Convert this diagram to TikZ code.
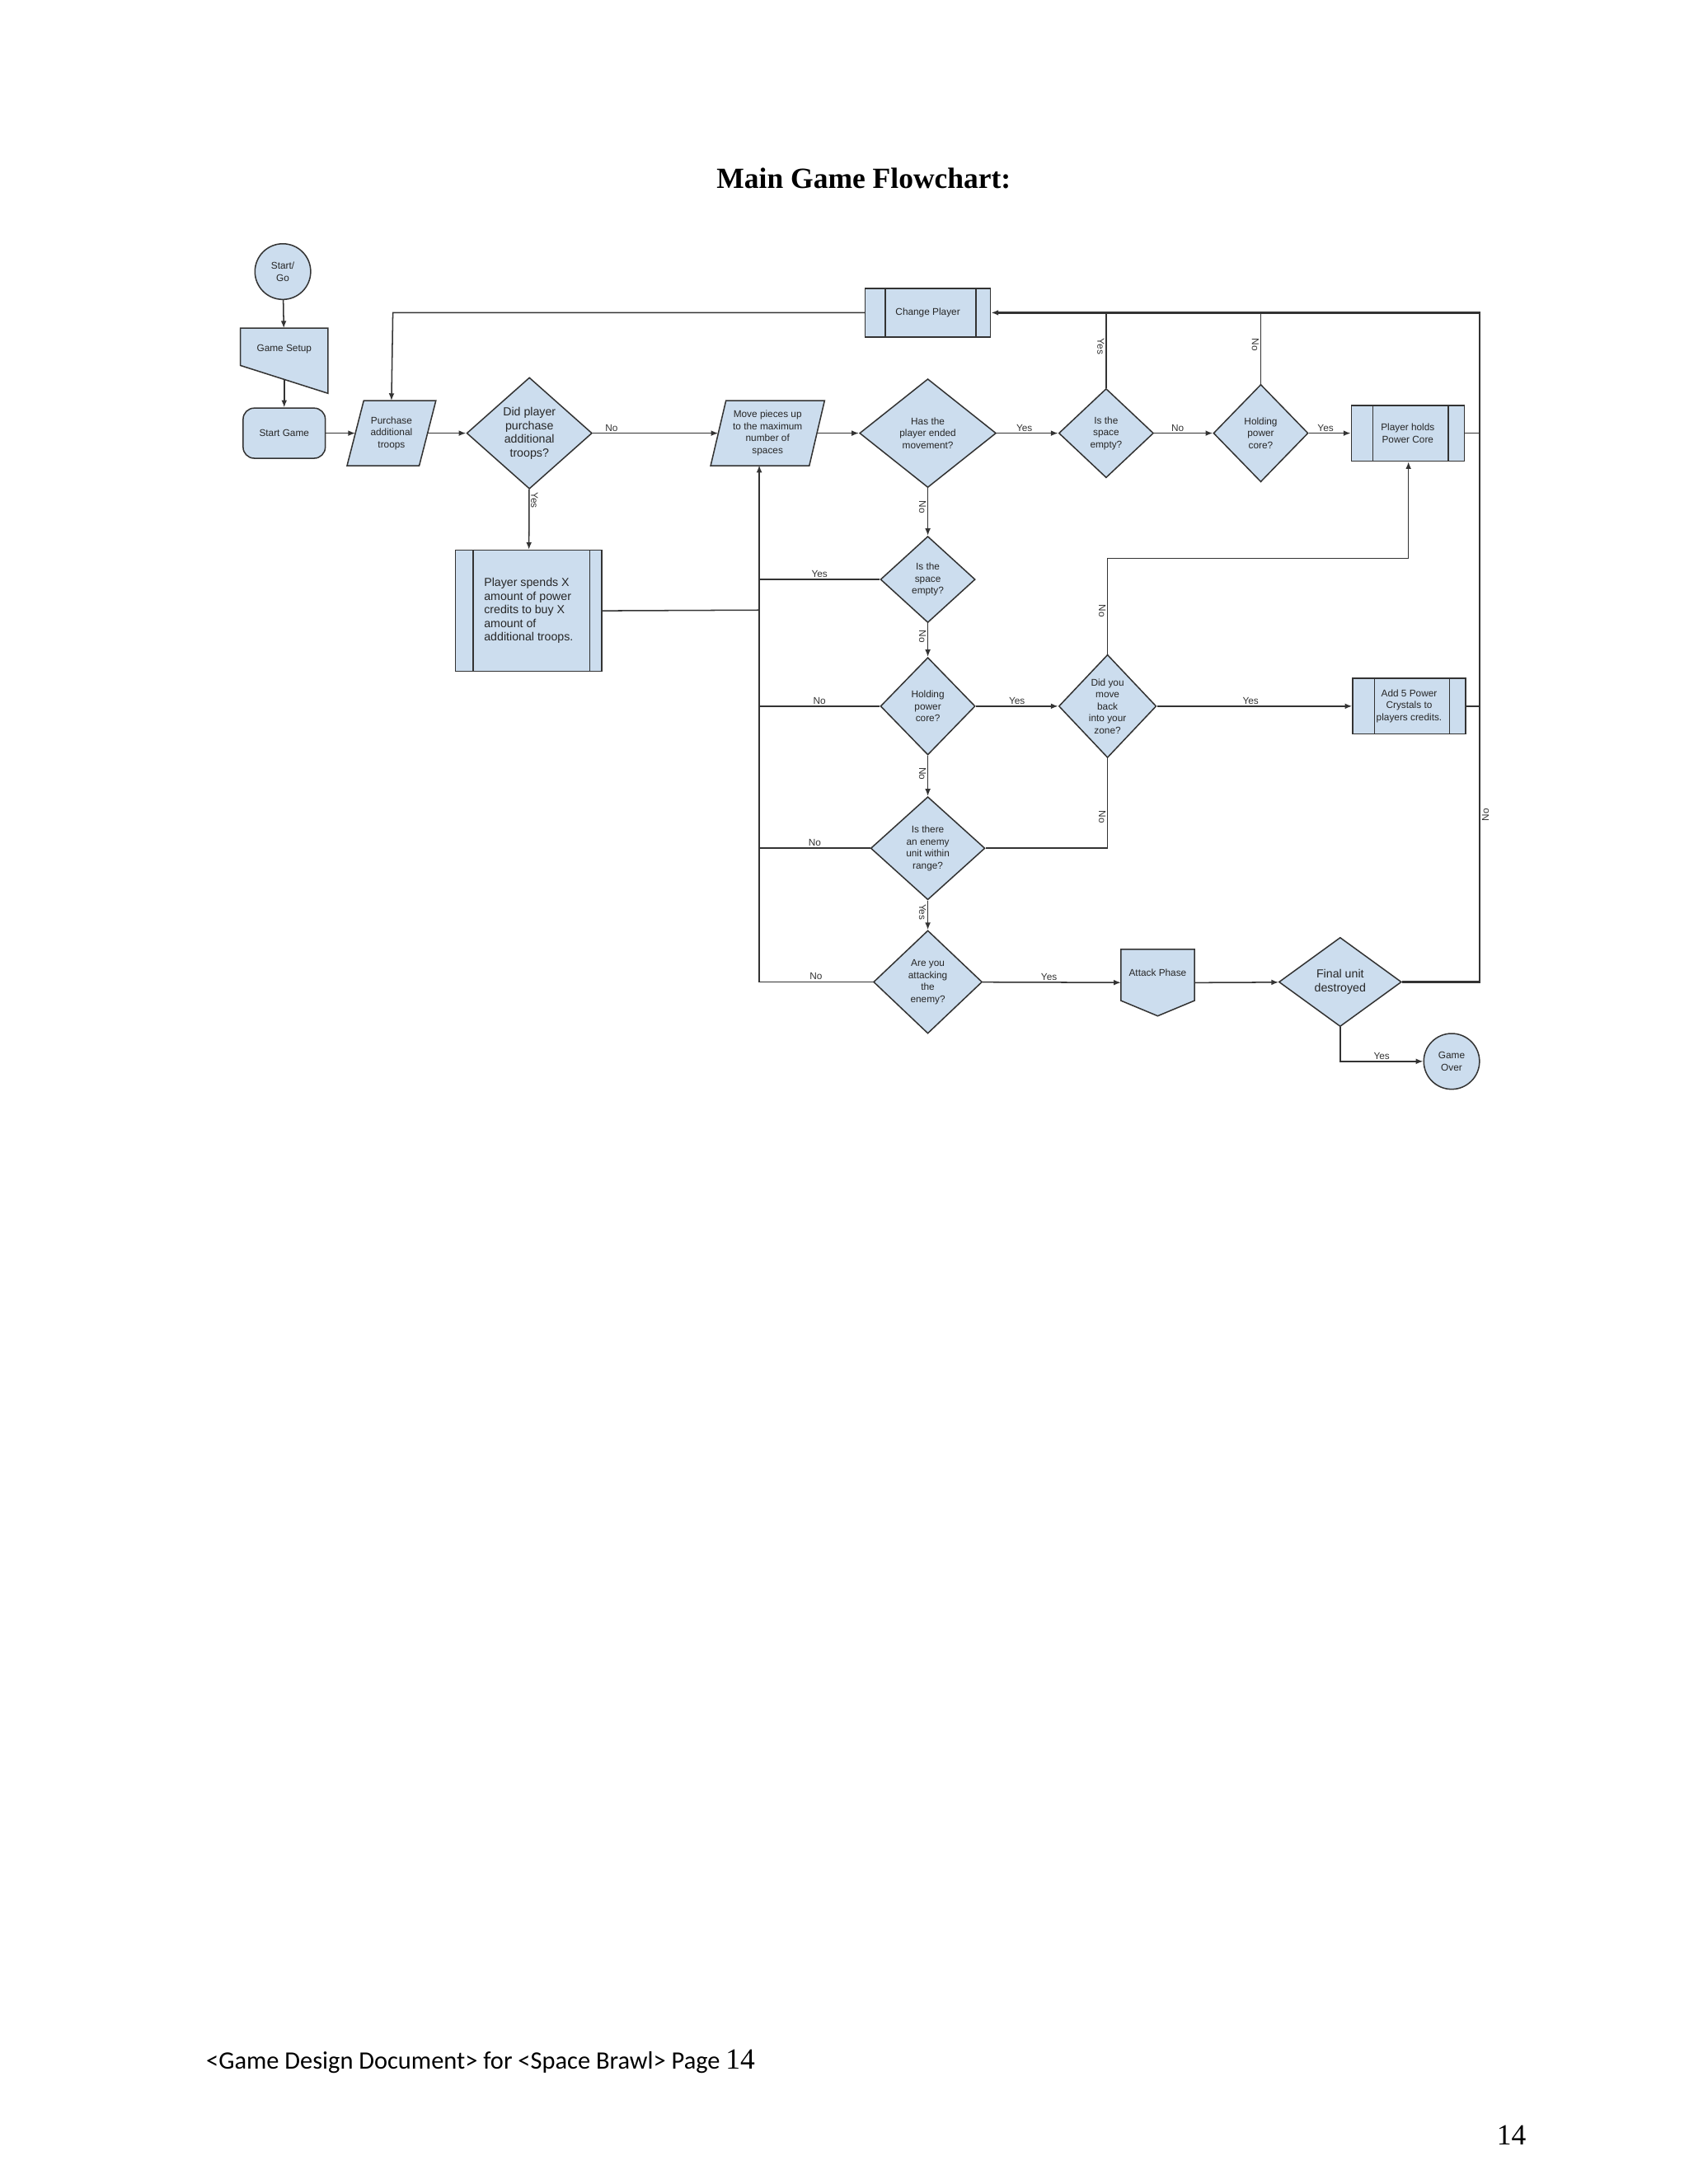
\documentclass[tikz,border=0pt]{standalone}
\usepackage{fontspec}
\setmainfont{Liberation Serif}
\setsansfont{Liberation Sans}
\newfontfamily\footfont{Carlito}
\usetikzlibrary{shapes.geometric,arrows.meta,backgrounds}
\definecolor{lc}{HTML}{333333}
\definecolor{bf}{HTML}{CCDDEE}
\tikzset{
  x=0.5pt,y=-0.5pt,
  base/.style={inner sep=0pt, align=center, font=\sffamily\fontsize{3.5}{4.3}\selectfont, text=black!85},
  box/.style={base, draw=lc, fill=bf, line width=0.45pt},
  ghost/.style={base, draw=none},
  dia/.style={box, diamond},
  lab/.style={font=\sffamily\fontsize{3.5}{4}\selectfont, text=black!80, inner sep=0.5pt},
  ln/.style={draw=lc, line width=0.45pt},
  arr/.style={ln, -{Latex[length=2.6pt,width=2pt]}},
}
\begin{document}
\begin{tikzpicture}
\useasboundingbox (0,0) rectangle (1212,1568);
\node[font=\bfseries\fontsize{10.5}{12}\selectfont] at (620,128) {Main Game Flowchart:};

% nodes
\node[box, circle, minimum size=20pt] (start) at (203,195) {Start/\\Go};
\node[ghost, minimum width=31pt, minimum height=18pt] (setup) at (204,254) {\raisebox{4pt}{Game Setup}};
\node[box, rounded corners=4pt, minimum width=29.5pt, minimum height=18pt] (sg) at (204,311) {Start Game};
\node[ghost, minimum width=31.5pt, minimum height=23pt] (purch) at (281,311) {Purchase\\additional\\troops};
\node[dia, minimum width=45pt, minimum height=40pt, font=\sffamily\fontsize{4.2}{4.9}\selectfont] (did) at (380,311) {Did player\\purchase\\additional\\troops?};
\node[ghost, minimum width=40.5pt, minimum height=23pt] (move) at (551,311) {Move pieces up\\to the maximum\\number of\\spaces};
\node[dia, minimum width=49pt, minimum height=39pt] (end) at (666,311) {Has the\\player ended\\movement?};
\node[dia, minimum width=34pt, minimum height=32pt] (sp1) at (794,311) {Is the\\space\\empty?};
\node[dia, minimum width=34pt, minimum height=35pt] (h1) at (905,311) {Holding\\power\\core?};
\node[box, minimum width=40.5pt, minimum height=20pt] (ph) at (1010.5,311) {Player holds\\Power Core};
\node[box, minimum width=45pt, minimum height=17.5pt] (cp) at (666,224.5) {Change Player};
\node[box, minimum width=52.5pt, minimum height=43.5pt, align=left, font=\sffamily\fontsize{4.2}{4.9}\selectfont] (ps) at (379.5,438.5) {Player spends X\\amount of power\\credits to buy X\\amount of\\additional troops.};
\node[dia, minimum width=34pt, minimum height=31pt] (sp2) at (666,416) {Is the\\space\\empty?};
\node[dia, minimum width=34pt, minimum height=35pt] (h2) at (666,507) {Holding\\power\\core?};
\node[dia, minimum width=35pt, minimum height=37pt] (back) at (795,507) {Did you\\move\\back\\into your\\zone?};
\node[box, minimum width=40.5pt, minimum height=20pt] (add) at (1011.5,507) {Add 5 Power\\Crystals to\\players credits.};
\node[dia, minimum width=41pt, minimum height=37pt] (en) at (666,609) {Is there\\an enemy\\unit within\\range?};
\node[dia, minimum width=39pt, minimum height=37pt] (at) at (666,705) {Are you\\attacking\\the\\enemy?};
\node[ghost, minimum width=26pt, minimum height=23.5pt] (ap) at (831,705.5) {\raisebox{7pt}{Attack Phase}};
\node[dia, minimum width=44pt, minimum height=32pt, font=\sffamily\fontsize{4.2}{4.9}\selectfont] (fin) at (962,705) {Final unit\\destroyed};
\node[box, circle, minimum size=20pt] (go) at (1042,762) {Game\\Over};

% custom shapes
\begin{scope}[on background layer]
\draw[ln, fill=bf] (setup.north west) -- (setup.north east) -- ([yshift=-5pt]setup.east |- setup.south) -- (setup.south) -- ([yshift=5pt]setup.south west) -- cycle;
\draw[ln, fill=bf] ([xshift=6pt]purch.north west) -- (purch.north east) -- ([xshift=-6pt]purch.south east) -- (purch.south west) -- cycle;
\draw[ln, fill=bf] ([xshift=5.5pt]move.north west) -- (move.north east) -- ([xshift=-5.5pt]move.south east) -- (move.south west) -- cycle;
\draw[ln, fill=bf] (ap.north west) -- (ap.north east) -- ([yshift=5.5pt]ap.south east) -- (ap.south) -- ([yshift=5.5pt]ap.south west) -- cycle;
\end{scope}
\foreach \n/\d in {ph/8pt, cp/7.5pt, ps/6.5pt, add/8pt}{
  \draw[ln] ([xshift=\d]\n.north west) -- ([xshift=\d]\n.south west);
  \draw[ln] ([xshift=-\d+2pt]\n.north east) -- ([xshift=-\d+2pt]\n.south east);
}

% connectors
\draw[arr] (start) -- (setup);
\draw[arr] (setup.south) -- (sg);
\draw[arr] (sg) -- ([xshift=3pt]purch.west);
\draw[arr] ([xshift=-3pt]purch.east) -- (did);
\draw[arr] (did) -- node[lab, above, pos=0.15]{No} ([xshift=2.75pt]move.west);
\draw[arr] (did) -- node[lab, right, rotate=-90, anchor=south, pos=0.18]{Yes} (ps);
\draw[ln] (ps.east) -- (545,438);
\draw[arr] (at.west) -- node[lab, above, pos=0.5]{No} (545,705) -- (545,334);
\draw[arr] ([xshift=-2.75pt]move.east) -- (end);
\draw[arr] (end) -- node[lab, above, pos=0.45]{Yes} (sp1);
\draw[arr] (sp1) -- node[lab, above, pos=0.4]{No} (h1);
\draw[arr] (h1) -- node[lab, above, pos=0.4]{Yes} (ph);
\draw[ln] (sp1.north) -- node[lab, rotate=-90, anchor=north, pos=0.55]{Yes} (sp1.north |- cp.east);
\draw[ln] (h1.north) -- node[lab, rotate=-90, anchor=north, pos=0.55]{No} (h1.north |- cp.east);
\draw[arr, line width=0.8pt] (fin.east) -- (1062,705) -- node[lab, rotate=90, anchor=north, pos=0.25]{No} (1062,224.5) -- (cp.east);
\draw[ln] (ph.east) -- (1062,311);
\draw[ln] (add.east) -- (1062,507);
\draw[arr] (cp.west) -- (282,224.5) -- (purch.north);
\draw[arr] (end) -- node[lab, rotate=-90, anchor=north, pos=0.4]{No} (sp2);
\draw[ln] (sp2.west) -- node[lab, above, pos=0.5]{Yes} (545,416);
\draw[arr] (sp2) -- node[lab, rotate=-90, anchor=north, pos=0.4]{No} (h2);
\draw[ln] (h2.west) -- node[lab, above, pos=0.5]{No} (545,507);
\draw[arr] (h2) -- node[lab, above, pos=0.5]{Yes} (back);
\draw[arr] (back) -- node[lab, above, pos=0.48]{Yes} (add);
\draw[arr] (back.north) -- node[lab, rotate=-90, anchor=north, pos=0.45]{No} (795,401) -- (1011,401) -- (ph.south -| 1011,0);
\draw[arr] (h2) -- node[lab, rotate=-90, anchor=north, pos=0.45]{No} (en);
\draw[ln] (en.west) -- node[lab, above, pos=0.5]{No} (545,609);
\draw[ln] (en.east) -- (795,609) -- node[lab, rotate=-90, anchor=north, pos=0.35]{No} (back.south);
\draw[arr] (en) -- node[lab, rotate=-90, anchor=north, pos=0.4]{Yes} (at);
\draw[arr] (at) -- node[lab, above, pos=0.48]{Yes} (ap);
\draw[arr] (ap.east) -- (fin);
\draw[arr] (fin.south) -- (962,762) -- node[lab, above, pos=0.5]{Yes} (go);

% footer
\node[anchor=west, font=\footfont\fontsize{9}{10}\selectfont] at (141,1480) {<Game Design Document> for <Space Brawl> Page {\rmfamily\fontsize{10.5}{11}\selectfont 14}};
\node[font=\rmfamily\fontsize{10.5}{12}\selectfont] at (1085,1533) {14};
\end{tikzpicture}
\end{document}
